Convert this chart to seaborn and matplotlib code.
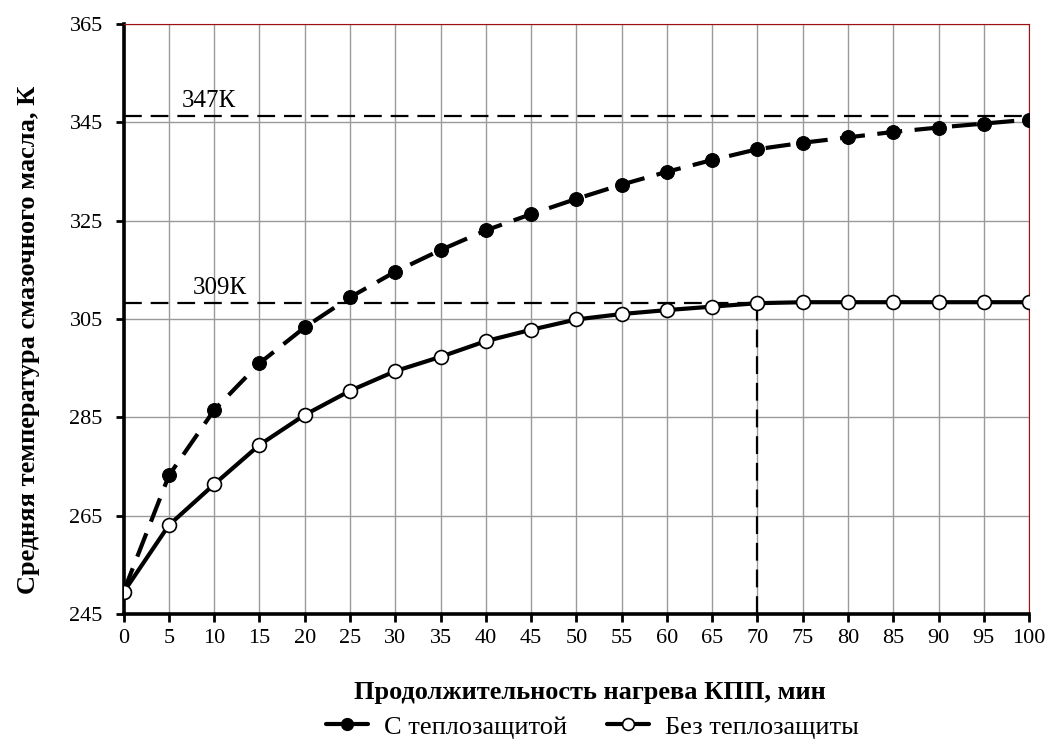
import numpy as np
import pandas as pd
import seaborn as sns
import matplotlib
matplotlib.use("Agg")
import matplotlib.pyplot as plt
from matplotlib.lines import Line2D

time_min = [0, 5, 10, 15, 20, 25, 30, 35, 40, 45, 50, 55, 60, 65, 70, 75, 80, 85, 90, 95, 100]
with_insulation = [249.6, 273.2, 286.5, 296.0, 303.3, 309.4, 314.6, 319.0, 323.0, 326.3, 329.4, 332.3, 334.9, 337.3, 339.5, 340.8, 341.9, 343.0, 343.9, 344.7, 345.5]
without_insulation = [249.5, 263.1, 271.4, 279.4, 285.5, 290.4, 294.4, 297.3, 300.5, 302.8, 304.9, 306.0, 306.8, 307.5, 308.2, 308.4, 308.4, 308.4, 308.4, 308.4, 308.4]
series_names = ["С теплозащитой", "Без теплозащиты"]
level_hi = 346.3
level_lo = 308.3
level_labels = ["347К", "309К"]
steady_time = 70
xlabel = "Продолжительность нагрева КПП, мин"
ylabel = "Средняя температура смазочного масла, К"

df = pd.DataFrame({"t": time_min, "with": with_insulation, "without": without_insulation})

sns.set_style("white")
plt.rcParams["font.family"] = ["Liberation Serif", "DejaVu Serif"]
plt.rcParams["text.color"] = "black"
plt.rcParams["axes.labelcolor"] = "black"
plt.rcParams["xtick.color"] = "black"
plt.rcParams["ytick.color"] = "black"

fig = plt.figure(figsize=(10.48, 7.4), dpi=100)
ax = fig.add_axes([0.118, 0.170, 0.864, 0.798])

# reference lines
ax.plot([0, 100], [level_hi, level_hi], color="black", lw=1.6, linestyle=(0, (8, 4)), zorder=2)
ax.plot([0, steady_time], [level_lo, level_lo], color="black", lw=1.6, linestyle=(0, (8, 4)), zorder=2)
ax.plot([steady_time, steady_time], [245, level_lo], color="black", lw=1.6, linestyle=(0, (8, 4)), zorder=2)

sns.lineplot(data=df, x="t", y="with", ax=ax, color="black", lw=3,
             linestyle=(0, (6, 3)), marker="o", markersize=10,
             markerfacecolor="black", markeredgecolor="black",
             zorder=4, legend=False)
sns.lineplot(data=df, x="t", y="without", ax=ax, color="black", lw=3,
             linestyle="-", marker="o", markersize=10,
             markerfacecolor="white", markeredgecolor="black", markeredgewidth=1.2,
             zorder=5, legend=False)

ax.text(6.4, level_hi + 0.8, level_labels[0], fontsize=18, ha="left", va="bottom")
ax.text(7.6, level_lo + 0.8, level_labels[1], fontsize=18, ha="left", va="bottom")

ax.set_xlim(0, 100)
ax.set_ylim(245, 365)
ax.set_xticks(np.arange(0, 101, 5))
ax.set_yticks(np.arange(245, 366, 20))
ax.grid(True, color="#9a9a9a", lw=1.0)
ax.set_axisbelow(True)

for s in ["top", "right"]:
    ax.spines[s].set_color("#a01010")
    ax.spines[s].set_linewidth(0.8)
for s in ["left", "bottom"]:
    ax.spines[s].set_color("black")
    ax.spines[s].set_linewidth(2.6)

ax.tick_params(axis="both", direction="out", length=6, width=2, color="black",
               labelcolor="black", labelsize=16, bottom=True, left=True)
ax.tick_params(axis="x", pad=5)
ax.tick_params(axis="y", pad=9)

ax.set_xlabel(xlabel, fontsize=19, fontweight="bold", color="black")
ax.set_ylabel(ylabel, fontsize=19, fontweight="bold", color="black")
ax.xaxis.set_label_coords(0.515, -0.113)
ax.yaxis.set_label_coords(-0.092, 0.464)

handles = [
    Line2D([], [], color="black", lw=3, marker="o", markersize=8.5,
           markerfacecolor="black", markeredgecolor="black"),
    Line2D([], [], color="black", lw=3, marker="o", markersize=8.5,
           markerfacecolor="white", markeredgecolor="black", markeredgewidth=1.2),
]
fig.legend(handles, series_names, loc="center", bbox_to_anchor=(0.565, 0.0176), ncol=2,
           frameon=False, fontsize=19, handlelength=1.6, handletextpad=0.6,
           columnspacing=1.5, borderaxespad=0.0, borderpad=0.0, labelcolor="black")

fig.savefig("out.png", dpi=100)
